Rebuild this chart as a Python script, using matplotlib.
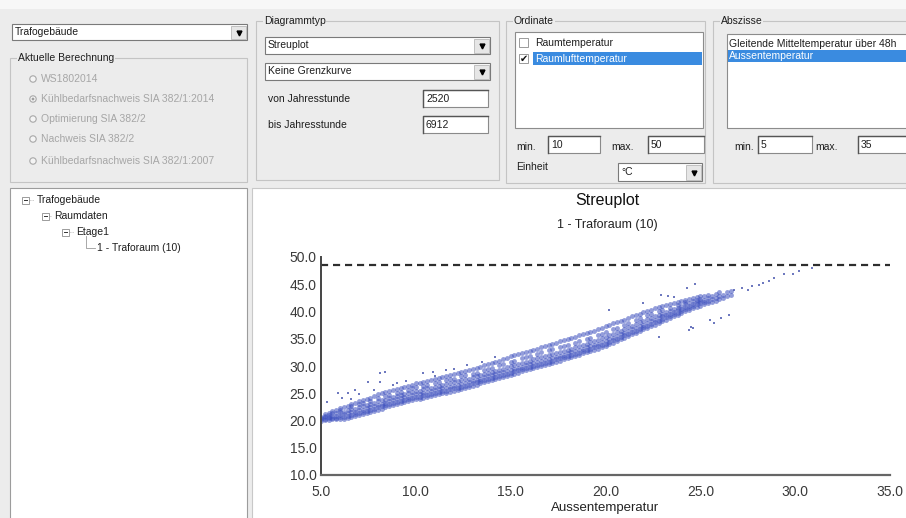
import matplotlib
matplotlib.use("Agg")
import matplotlib.pyplot as plt
from matplotlib.patches import Rectangle, Circle

# Streuplot: Aussentemperatur (x) gegen Raumlufttemperatur (y)
raumluft_spalten = [
    (5.0, [20.0, 20.2, 20.4, 20.7]),
    (5.2, [20.1, 20.3, 20.6, 20.9, 21.2]),
    (5.4, [20.1, 20.4, 20.7, 21.0, 21.4]),
    (5.6, [20.2, 20.4, 20.8, 21.3, 21.7]),
    (5.8, [20.2, 20.5, 20.9, 21.4, 22.0]),
    (6.0, [20.3, 20.6, 21.0, 21.5, 21.9, 22.3]),
    (6.2, [20.3, 20.7, 21.2, 21.6, 22.5]),
    (6.4, [20.4, 20.8, 21.3, 21.9, 22.7]),
    (6.6, [20.6, 21.0, 21.5, 22.1, 22.6, 23.0]),
    (6.8, [20.8, 21.2, 21.6, 22.2, 23.3]),
    (7.0, [21.0, 21.4, 21.9, 22.5, 23.0, 23.6]),
    (7.2, [21.2, 21.5, 22.0, 22.6, 23.3, 23.8]),
    (7.4, [21.4, 21.8, 22.3, 22.8, 24.0]),
    (7.6, [21.6, 22.0, 22.5, 23.1, 23.6, 24.2]),
    (7.8, [21.8, 22.2, 22.7, 23.3, 24.5]),
    (8.0, [22.0, 22.4, 22.9, 23.5, 24.1, 24.8]),
    (8.2, [22.2, 22.6, 23.1, 23.7, 25.0]),
    (8.4, [22.4, 22.8, 23.3, 23.8, 24.5, 25.2]),
    (8.6, [22.6, 23.0, 23.5, 24.1, 24.7, 25.4]),
    (8.8, [22.8, 23.2, 23.7, 24.3, 25.6]),
    (9.0, [23.0, 23.4, 23.9, 24.5, 25.1, 25.8]),
    (9.2, [23.2, 23.6, 24.1, 24.6, 25.3, 26.0]),
    (9.4, [23.4, 23.8, 24.3, 24.9, 26.2]),
    (9.6, [23.5, 23.9, 24.4, 25.0, 25.6, 26.3]),
    (9.8, [23.7, 24.1, 24.6, 25.2, 25.9, 26.5]),
    (10.0, [23.9, 24.3, 24.8, 25.4, 26.1, 26.8]),
    (10.2, [24.0, 24.4, 24.9, 25.5, 26.9]),
    (10.4, [24.2, 24.6, 25.1, 25.7, 26.4, 27.1]),
    (10.6, [24.3, 24.7, 25.2, 25.9, 26.6, 27.2]),
    (10.8, [24.5, 24.9, 25.4, 26.0, 27.4]),
    (11.0, [24.7, 25.1, 25.6, 26.2, 26.9, 27.6]),
    (11.2, [24.8, 25.2, 25.7, 26.4, 27.1, 27.8]),
    (11.4, [25.0, 25.4, 25.9, 26.5, 28.0]),
    (11.6, [25.1, 25.5, 26.0, 26.7, 27.4, 28.1]),
    (11.8, [25.3, 25.7, 26.2, 26.9, 27.6, 28.3]),
    (12.0, [25.5, 25.9, 26.4, 27.0, 27.7, 28.5]),
    (12.2, [25.6, 26.0, 26.6, 27.2, 28.7]),
    (12.4, [25.8, 26.2, 26.7, 27.4, 28.1, 28.9]),
    (12.6, [26.0, 26.4, 26.9, 27.6, 28.3, 29.1]),
    (12.8, [26.2, 26.6, 27.1, 27.7, 29.3]),
    (13.0, [26.4, 26.8, 27.3, 27.9, 28.6, 29.5]),
    (13.2, [26.6, 27.0, 27.5, 28.1, 28.8, 29.7]),
    (13.4, [26.8, 27.2, 27.7, 28.3, 29.9]),
    (13.6, [27.0, 27.4, 27.9, 28.5, 29.2, 30.1]),
    (13.8, [27.2, 27.6, 28.1, 28.7, 29.4, 30.3]),
    (14.0, [27.4, 27.8, 28.3, 28.9, 29.7, 30.6]),
    (14.2, [27.6, 28.0, 28.5, 29.1, 30.8]),
    (14.4, [27.8, 28.2, 28.7, 29.3, 30.1, 31.0]),
    (14.6, [28.0, 28.4, 28.9, 29.5, 30.3, 31.2]),
    (14.8, [28.2, 28.6, 29.1, 29.8, 31.5]),
    (15.0, [28.4, 28.8, 29.3, 30.0, 30.8, 31.8]),
    (15.2, [28.6, 29.0, 29.5, 30.2, 31.0, 32.0]),
    (15.4, [28.8, 29.2, 29.7, 30.4, 32.2]),
    (15.6, [29.0, 29.4, 29.9, 30.6, 31.4, 32.4]),
    (15.8, [29.2, 29.6, 30.1, 30.8, 31.6, 32.6]),
    (16.0, [29.4, 29.8, 30.3, 31.0, 31.8, 32.8]),
    (16.2, [29.6, 30.0, 30.5, 31.2, 33.0]),
    (16.4, [29.8, 30.2, 30.7, 31.4, 32.2, 33.2]),
    (16.6, [30.0, 30.4, 30.9, 31.6, 32.5, 33.5]),
    (16.8, [30.2, 30.6, 31.1, 31.8, 33.7]),
    (17.0, [30.4, 30.8, 31.3, 32.0, 32.9, 33.9]),
    (17.2, [30.6, 31.0, 31.5, 32.2, 33.1, 34.1]),
    (17.4, [30.8, 31.2, 31.7, 32.4, 34.3]),
    (17.6, [31.0, 31.4, 31.9, 32.6, 33.5, 34.5]),
    (17.8, [31.2, 31.6, 32.1, 32.8, 33.7, 34.7]),
    (18.0, [31.4, 31.8, 32.3, 33.0, 33.9, 35.0]),
    (18.2, [31.6, 32.0, 32.5, 33.2, 35.2]),
    (18.4, [31.8, 32.2, 32.7, 33.4, 34.3, 35.4]),
    (18.6, [32.0, 32.4, 32.9, 33.6, 34.5, 35.6]),
    (18.8, [32.3, 32.7, 33.2, 33.9, 35.9]),
    (19.0, [32.5, 32.9, 33.4, 34.1, 35.0, 36.1]),
    (19.2, [32.8, 33.2, 33.7, 34.4, 35.2, 36.3]),
    (19.4, [33.0, 33.4, 33.9, 34.6, 36.5]),
    (19.6, [33.2, 33.6, 34.1, 34.8, 35.7, 36.8]),
    (19.8, [33.5, 33.9, 34.4, 35.1, 35.9, 37.0]),
    (20.0, [33.7, 34.1, 34.6, 35.3, 36.2, 37.3]),
    (20.2, [34.0, 34.4, 34.9, 35.6, 37.5]),
    (20.4, [34.3, 34.7, 35.2, 35.9, 36.7, 37.8]),
    (20.6, [34.6, 35.0, 35.5, 36.2, 37.0, 38.0]),
    (20.8, [34.9, 35.3, 35.8, 36.5, 38.3]),
    (21.0, [35.2, 35.6, 36.1, 36.8, 37.6, 38.5]),
    (21.2, [35.5, 35.9, 36.4, 37.1, 37.9, 38.8]),
    (21.4, [35.8, 36.2, 36.7, 37.4, 39.1]),
    (21.6, [36.1, 36.5, 37.0, 37.7, 38.5, 39.3]),
    (21.8, [36.4, 36.8, 37.3, 38.0, 38.8, 39.6]),
    (22.0, [36.7, 37.1, 37.6, 38.3, 39.9]),
    (22.2, [37.0, 37.4, 37.9, 38.6, 39.3, 40.1]),
    (22.4, [37.3, 37.7, 38.2, 38.8, 39.5, 40.3]),
    (22.6, [37.6, 38.0, 38.5, 39.1, 40.6]),
    (22.8, [37.9, 38.3, 38.8, 39.4, 40.0, 40.8]),
    (23.0, [38.2, 38.6, 39.1, 39.6, 40.2, 41.0]),
    (23.2, [38.5, 38.9, 39.4, 39.9, 41.2]),
    (23.4, [38.8, 39.2, 39.6, 40.1, 40.7, 41.4]),
    (23.6, [39.1, 39.5, 39.9, 40.4, 41.6]),
    (23.8, [39.4, 39.8, 40.2, 40.7, 41.2, 41.8]),
    (24.0, [39.7, 40.1, 40.5, 41.0, 42.0]),
    (24.2, [40.0, 40.4, 40.8, 41.3, 41.7, 42.2]),
    (24.4, [40.3, 40.7, 41.1, 41.6, 42.3]),
    (24.6, [40.6, 41.0, 41.4, 41.9, 42.5]),
    (24.8, [40.9, 41.3, 41.7, 42.1, 42.6]),
    (25.0, [41.1, 41.5, 41.9, 42.3, 42.8]),
    (25.2, [41.4, 41.8, 42.2, 42.9]),
    (25.4, [41.6, 42.0, 42.4, 43.1]),
    (25.6, [41.8, 42.3, 42.8]),
    (25.8, [42.0, 42.5, 43.3]),
    (26.0, [42.3, 42.8, 43.5]),
    (26.2, [42.5, 43.0]),
    (26.4, [42.8, 43.6]),
    (26.6, [43.0, 43.8]),
]

ausreisser_x = [5.3, 5.9, 6.1, 6.4, 6.6, 6.8, 7.0, 7.5, 7.8, 8.1, 8.1, 8.4, 8.8, 9.0, 9.5,
                10.4, 10.9, 11.0, 11.6, 12.0, 12.7, 13.5, 14.2,
                20.2, 22.0, 22.9, 23.3, 23.6, 24.3, 24.7,
                22.8, 24.4, 24.5, 24.6, 25.5, 25.7, 26.1, 26.5,
                26.8, 27.2, 27.5, 27.7, 28.1, 28.3, 28.6, 28.9, 29.4, 29.9, 30.2, 30.9]
ausreisser_y = [23.4, 25.0, 24.2, 25.0, 24.0, 25.6, 24.8, 27.1, 25.6, 27.1, 28.7, 28.9, 26.6, 26.8, 27.3,
                28.7, 28.9, 28.2, 29.3, 29.4, 30.2, 30.8, 31.6,
                40.3, 41.6, 43.0, 42.8, 42.7, 44.3, 45.0,
                35.3, 36.6, 37.2, 37.0, 38.4, 37.9, 38.8, 39.4,
                43.9, 44.3, 44.0, 44.6, 44.9, 45.2, 45.6, 46.1, 46.9, 46.9, 47.4, 48.0]

grenze = 48.5
x_ticks = [5, 10, 15, 20, 25, 30, 35]
y_ticks = [10, 15, 20, 25, 30, 35, 40, 45, 50]

W, H = 906, 518
GUI = "#ececec"
FONT = "Liberation Sans"

fig = plt.figure(figsize=(W / 100, H / 100), dpi=100, facecolor=GUI)
bg = fig.add_axes([0, 0, 1, 1], zorder=0)
bg.set_xlim(0, W)
bg.set_ylim(H, 0)
bg.axis("off")


def rect(x, y, w, h, fc="white", ec="#8c8c8c", lw=0.8, z=1):
    bg.add_patch(Rectangle((x, y), w, h, facecolor=fc, edgecolor=ec, linewidth=lw, zorder=z))


def txt(x, y, s, size=7.5, color="#1e1e1e", ha="left", family=FONT):
    bg.text(x, y, s, fontsize=size, color=color, ha=ha, va="center", family=family, zorder=5)


def combo(x, y, w, h, s):
    rect(x, y, w, h, ec="#7a7a7a")
    rect(x + w - 16, y + 1.5, 14.5, h - 3, fc="#e6e6e6", ec="#b8b8b8", lw=0.6, z=2)
    bg.plot(x + w - 8.5, y + h / 2 + 0.5, marker="v", ms=3.5, color="black", zorder=3)
    txt(x + 3, y + h / 2, s)


def textbox(x, y, w, h, s):
    rect(x, y, w, h, ec="#8a8a8a")
    bg.plot([x, x, x + w], [y + h, y, y], color="#555555", lw=1.0, zorder=3)
    txt(x + 3, y + h / 2, s)


def group(x, y, w, h, title):
    rect(x, y, w, h, fc="none", ec="#c4c4c4", lw=0.8)
    bg.text(x + 8, y, title, fontsize=7.5, color="#1e1e1e", va="center", family=FONT,
            zorder=5, bbox=dict(facecolor=GUI, edgecolor="none", pad=0.5))


rect(0, 0, W, 9, fc="#f7f7f7", ec="none")

# links oben
combo(12, 24, 235, 16, "Trafogebäude")
group(10, 58, 237, 124, "Aktuelle Berechnung")
radio = ["WS1802014", "Kühlbedarfsnachweis SIA 382/1:2014", "Optimierung SIA 382/2",
         "Nachweis SIA 382/2", "Kühlbedarfsnachweis SIA 382/1:2007"]
for i, (ry, r) in enumerate(zip([79, 99, 119, 139, 161], radio)):
    bg.add_patch(Circle((33, ry), 3.2, facecolor="#f4f4f4", edgecolor="#a8a8a8", lw=0.8, zorder=3))
    if i == 1:
        bg.add_patch(Circle((33, ry), 1.4, facecolor="#a0a0a0", edgecolor="none", zorder=4))
    txt(41, ry, r, color="#a6a6a6")

# Diagrammtyp
group(256, 21, 243, 159, "Diagrammtyp")
combo(265, 37, 225, 17, "Streuplot")
combo(265, 63, 225, 17, "Keine Grenzkurve")
txt(268, 99, "von Jahresstunde")
txt(268, 125, "bis Jahresstunde")
textbox(423, 90, 65, 17, "2520")
textbox(423, 116, 65, 17, "6912")

# Ordinate
group(506, 21, 199, 162, "Ordinate")
rect(515, 32, 188, 96)
rect(519, 38, 9, 9, fc="white", ec="#9a9a9a", lw=0.7, z=3)
txt(535, 43, "Raumtemperatur")
rect(533, 52, 169, 13, fc="#3a8be0", ec="none", z=2)
rect(519, 54, 9, 9, fc="white", ec="#9a9a9a", lw=0.7, z=3)
txt(520, 58.5, "✔", size=7, color="#111111", family="DejaVu Sans")
txt(535, 58.5, "Raumlufttemperatur", color="white")
txt(516, 147, "min.")
textbox(548, 136, 52, 17, "10")
txt(611, 147, "max.")
textbox(648, 136, 56, 17, "50")
txt(516, 167, "Einheit")
combo(618, 163, 84, 18, "°C")

# Abszisse
group(713, 21, 210, 162, "Abszisse")
rect(727, 34, 190, 94)
txt(729, 44, "Gleitende Mitteltemperatur über 48h")
rect(728, 50, 190, 12, fc="#3a8be0", ec="none", z=2)
txt(729, 56, "Aussentemperatur", color="white")
txt(734, 147, "min.")
textbox(758, 136, 54, 17, "5")
txt(815, 147, "max.")
textbox(858, 136, 52, 17, "35")

# Baum
rect(10, 188, 237, 340, ec="#9c9c9c")
tree = [(22, 37, 200, "Trafogebäude"), (42, 54, 216, "Raumdaten"), (62, 76, 232, "Etage1")]
for bx, tx, ty, s in tree:
    rect(bx, ty - 3.5, 7, 7, fc="white", ec="#8c8c8c", lw=0.6, z=3)
    bg.plot([bx + 1.8, bx + 5.2], [ty, ty], color="#333333", lw=0.7, zorder=4)
    bg.plot([bx + 7.5, tx - 3], [ty, ty], color="#9a9a9a", lw=0.6, ls=":", zorder=3)
    txt(tx, ty, s)
bg.plot([86, 86, 95], [236, 248, 248], color="#9a9a9a", lw=0.6, zorder=3)
txt(97, 248, "1 - Traforaum (10)")

# Diagrammfläche
rect(252, 188, 660, 340, ec="#c8c8c8")
txt(607, 200, "Streuplot", size=11.5, color="#111111", ha="center")
txt(607, 225, "1 - Traforaum (10)", size=9, color="#222222", ha="center")

ax = fig.add_axes([321 / W, 1 - 475 / H, (890 - 321) / W, (475 - 257) / H], zorder=2)
ax.patch.set_alpha(0)

band_x = [x for x, ys in raumluft_spalten for _ in ys]
band_y = [y for _, ys in raumluft_spalten for y in ys]
ax.plot(band_x, band_y, ls="none", marker="o", ms=3.5, mew=0, color="#3a4dbd", alpha=0.55)
ax.plot(ausreisser_x, ausreisser_y, ls="none", marker="s", ms=1.6, mew=0, color="#4a58b0", alpha=0.8)
ax.axhline(grenze, color="#2e2e2e", lw=1.6, ls=(0, (3.2, 2.2)))

ax.set_xlim(5, 35)
ax.set_ylim(10, 50)
ax.set_xticks(x_ticks)
ax.set_yticks(y_ticks)
ax.set_xticklabels([f"{v:.1f}" for v in x_ticks])
ax.set_yticklabels([f"{v:.1f}" for v in y_ticks])
ax.tick_params(length=0, labelsize=10, labelcolor="#3a3a3a")
ax.tick_params(axis="x", pad=7)
ax.tick_params(axis="y", pad=3)
for lab in ax.get_xticklabels() + ax.get_yticklabels():
    lab.set_family(FONT)
for side in ["top", "right"]:
    ax.spines[side].set_visible(False)
ax.spines["left"].set_color("#444444")
ax.spines["left"].set_linewidth(1.4)
ax.spines["bottom"].set_color("#666666")
ax.spines["bottom"].set_linewidth(1.6)
ax.set_xlabel("Aussentemperatur", fontsize=9.5, color="#222222", family=FONT, labelpad=2)

fig.savefig("out.png", dpi=100, facecolor=GUI)
